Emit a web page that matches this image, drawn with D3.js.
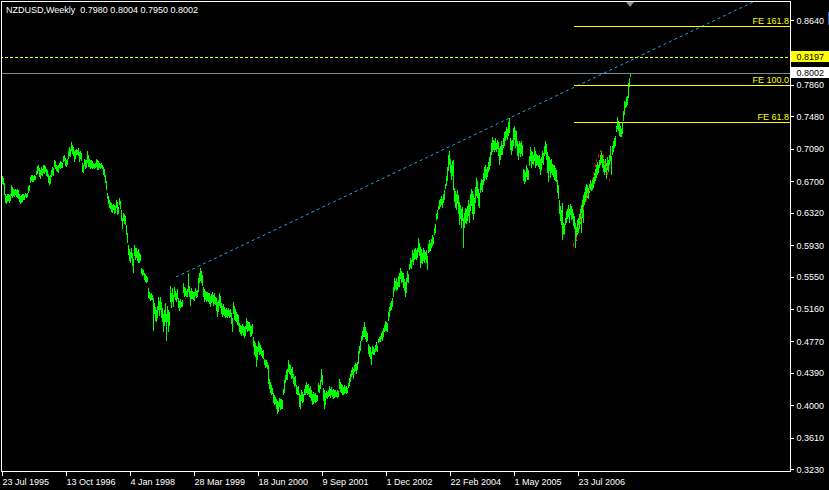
<!DOCTYPE html>
<html><head><meta charset="utf-8">
<script src="https://cdn.jsdelivr.net/npm/d3@7"></script>
<style>
html,body{margin:0;padding:0;background:#000;}
svg{display:block;}
text{font-family:"Liberation Sans",Arial,sans-serif;font-size:9px;}
</style></head><body>
<svg id="c" width="829" height="490"></svg>
<script>
// ---- data (weekly bars, one per week, starting 23 Jul 1995) ----
const highs=[
.676,.674,.668,.655,.652,.654,.655,.653,.654,.666,
.663,.661,.659,.661,.660,.661,.659,.654,.652,.653,
.654,.655,.653,.656,.655,.656,.664,.666,.675,.678,
.677,.676,.677,.676,.682,.688,.690,.686,.684,.687,
.685,.690,.689,.688,.685,.684,.679,.676,.678,.683,
.687,.686,.696,.694,.690,.688,.689,.692,.694,.693,
.692,.700,.702,.698,.696,.697,.706,.711,.709,.717,
.714,.711,.706,.708,.709,.708,.710,.705,.707,.704,
.692,.690,.697,.695,.696,.706,.701,.697,.695,.696,
.694,.692,.691,.692,.697,.695,.694,.692,.691,.692,
.690,.687,.685,.677,.670,.656,.652,.647,.645,.644,
.641,.643,.641,.640,.647,.645,.639,.650,.646,.635,
.626,.632,.630,.628,.617,.608,.593,.588,.585,.589,
.583,.576,.593,.590,.589,.586,.588,.584,.582,.565,
.564,.563,.560,.558,.556,.554,.541,.536,.534,.535,
.533,.529,.523,.518,.515,.520,.530,.526,.530,.525,
.517,.510,.515,.523,.510,.520,.515,.512,.544,.535,
.541,.533,.542,.538,.535,.540,.529,.526,.528,.525,
.527,.547,.542,.541,.538,.540,.560,.544,.538,.541,
.538,.536,.537,.541,.538,.539,.553,.560,.565,.562,
.557,.542,.540,.538,.536,.537,.535,.535,.532,.534,
.536,.533,.535,.531,.529,.524,.527,.535,.532,.523,
.520,.522,.518,.516,.517,.515,.517,.515,.516,.511,
.505,.524,.520,.516,.512,.510,.509,.499,.497,.496,
.498,.496,.494,.495,.505,.502,.500,.500,.497,.496,
.498,.482,.478,.475,.472,.470,.478,.475,.473,.469,
.466,.467,.456,.454,.455,.452,.448,.432,.428,.425,
.421,.415,.412,.410,.408,.405,.404,.409,.407,.408,
.406,.420,.430,.436,.442,.444,.454,.450,.448,.444,
.446,.438,.434,.435,.424,.422,.423,.415,.412,.418,
.416,.414,.420,.424,.428,.425,.426,.421,.423,.418,
.414,.416,.414,.415,.413,.412,.427,.425,.430,.444,
.436,.421,.418,.415,.417,.416,.418,.423,.420,.422,
.419,.420,.418,.419,.416,.418,.417,.432,.428,.426,
.424,.422,.424,.422,.423,.421,.427,.433,.438,.443,
.446,.444,.448,.451,.450,.452,.466,.472,.478,.484,
.490,.494,.500,.494,.490,.487,.474,.472,.470,.464,
.472,.470,.468,.473,.476,.472,.480,.482,.484,.487,
.490,.493,.497,.502,.500,.499,.512,.518,.523,.526,
.529,.542,.553,.550,.553,.548,.556,.559,.566,.562,
.560,.559,.552,.548,.553,.562,.558,.570,.578,.575,
.587,.584,.588,.590,.587,.589,.602,.595,.591,.588,
.584,.590,.587,.585,.587,.580,.594,.599,.596,.600,
.605,.603,.614,.619,.630,.635,.640,.647,.649,.652,
.648,.655,.659,.667,.676,.687,.702,.707,.697,.690,
.694,.695,.662,.658,.655,.660,.653,.645,.641,.636,
.639,.626,.632,.638,.636,.640,.647,.643,.655,.661,
.658,.655,.650,.663,.674,.670,.661,.656,.668,.673,
.671,.680,.687,.689,.685,.687,.693,.699,.705,.716,
.723,.720,.719,.722,.716,.720,.717,.710,.713,.719,
.714,.722,.729,.731,.735,.733,.741,.746,.722,.718,
.720,.734,.737,.732,.730,.719,.715,.719,.716,.718,
.714,.685,.683,.681,.689,.686,.684,.700,.711,.706,
.705,.702,.711,.706,.703,.701,.700,.701,.697,.699,
.707,.704,.712,.719,.715,.705,.700,.699,.696,.697,
.691,.689,.689,.686,.683,.671,.665,.647,.640,.635,
.644,.620,.618,.626,.634,.637,.641,.637,.643,.640,
.636,.632,.628,.620,.615,.623,.626,.630,.636,.641,
.647,.653,.657,.663,.667,.665,.662,.667,.671,.669,
.672,.675,.680,.685,.689,.693,.690,.695,.702,.707,
.701,.697,.694,.697,.692,.699,.695,.702,.713,.700,
.712,.719,.722,.725,.737,.747,.742,.740,.737,.733,
.740,.755,.767,.765,.771,.773,.788,.794,.8004];
const lows=[
.667,.665,.653,.644,.642,.645,.646,.644,.646,.652,
.650,.652,.651,.653,.651,.650,.649,.645,.643,.644,
.645,.647,.647,.651,.650,.651,.656,.658,.668,.670,
.669,.669,.671,.671,.677,.679,.682,.675,.673,.677,
.676,.680,.679,.681,.676,.675,.668,.665,.667,.675,
.677,.676,.687,.685,.682,.681,.680,.686,.685,.686,
.686,.693,.694,.688,.687,.689,.697,.700,.699,.706,
.703,.700,.693,.697,.701,.701,.700,.693,.697,.694,
.681,.680,.688,.685,.686,.692,.687,.687,.685,.686,
.685,.686,.685,.686,.687,.683,.684,.686,.685,.686,
.685,.678,.675,.668,.659,.648,.643,.638,.636,.633,
.632,.635,.631,.632,.638,.629,.630,.641,.637,.622,
.613,.622,.618,.617,.605,.596,.581,.574,.572,.578,
.568,.560,.580,.575,.577,.574,.572,.571,.574,.558,
.556,.557,.551,.548,.547,.549,.529,.528,.526,.527,
.527,.490,.510,.502,.500,.505,.515,.508,.515,.505,
.500,.488,.495,.500,.478,.500,.488,.495,.525,.517,
.525,.518,.530,.527,.524,.528,.517,.514,.517,.519,
.518,.535,.530,.532,.530,.531,.536,.530,.520,.528,
.528,.527,.526,.532,.529,.530,.536,.547,.550,.547,
.544,.530,.524,.527,.524,.526,.525,.522,.518,.523,
.525,.520,.522,.521,.514,.506,.512,.520,.517,.510,
.506,.509,.507,.505,.506,.505,.507,.505,.506,.498,
.488,.510,.503,.502,.500,.497,.496,.488,.486,.484,
.487,.484,.481,.483,.492,.488,.490,.489,.482,.484,
.486,.470,.460,.458,.446,.455,.464,.460,.462,.459,
.457,.456,.448,.445,.446,.444,.426,.420,.415,.412,
.414,.403,.400,.401,.396,.390,.392,.398,.394,.396,
.395,.412,.415,.427,.430,.431,.440,.438,.436,.432,
.433,.426,.422,.423,.414,.412,.413,.398,.396,.405,
.403,.404,.412,.413,.415,.413,.414,.410,.409,.405,
.400,.402,.404,.403,.404,.405,.416,.415,.420,.428,
.424,.405,.396,.400,.409,.408,.410,.411,.409,.412,
.410,.408,.409,.410,.410,.409,.410,.420,.416,.415,
.413,.412,.414,.415,.414,.415,.421,.423,.428,.434,
.436,.432,.440,.441,.438,.442,.450,.462,.466,.478,
.479,.482,.482,.480,.476,.477,.462,.458,.456,.448,
.462,.460,.461,.464,.466,.464,.475,.476,.476,.480,
.478,.482,.488,.490,.489,.488,.502,.506,.514,.515,
.518,.530,.538,.540,.538,.539,.543,.542,.552,.547,
.549,.541,.538,.530,.535,.549,.547,.563,.566,.564,
.573,.569,.575,.576,.575,.578,.585,.580,.566,.572,
.570,.574,.571,.575,.571,.563,.583,.585,.586,.590,
.592,.594,.605,.607,.623,.625,.635,.637,.639,.641,
.638,.644,.647,.661,.664,.670,.682,.690,.680,.671,
.676,.659,.645,.638,.635,.642,.630,.617,.625,.614,
.622,.590,.614,.620,.618,.622,.628,.620,.634,.640,
.631,.623,.630,.644,.652,.650,.640,.638,.656,.660,
.657,.665,.670,.674,.671,.675,.681,.684,.688,.701,
.705,.708,.705,.708,.705,.709,.700,.689,.695,.702,
.701,.710,.713,.719,.722,.720,.724,.728,.708,.701,
.706,.713,.720,.710,.712,.700,.695,.704,.699,.703,
.700,.670,.667,.669,.675,.671,.672,.688,.694,.686,
.691,.689,.694,.686,.688,.690,.687,.685,.677,.683,
.692,.689,.700,.703,.695,.680,.669,.682,.674,.680,
.678,.675,.672,.670,.669,.656,.649,.630,.622,.617,
.599,.606,.605,.617,.620,.624,.627,.620,.629,.623,
.625,.616,.613,.590,.598,.605,.608,.612,.618,.608,
.626,.620,.641,.645,.650,.650,.649,.656,.660,.658,
.659,.662,.667,.670,.674,.677,.680,.686,.690,.692,
.686,.681,.678,.681,.673,.684,.681,.690,.694,.677,
.701,.705,.710,.712,.729,.733,.730,.725,.723,.723,
.727,.743,.750,.758,.760,.762,.770,.783,.7950];

const xTickIndex=[0,64,128,192,256,320,384,448,512,576];
const xTickLabels=["23 Jul 1995","13 Oct 1996","4 Jan 1998","28 Mar 1999","18 Jun 2000","9 Sep 2001","1 Dec 2002","22 Feb 2004","1 May 2005","23 Jul 2006"];
const yTicks=[0.8640,0.8250,0.7860,0.7480,0.7090,0.6700,0.6320,0.5930,0.5550,0.5160,0.4770,0.4390,0.4000,0.3610,0.3230];

const feLevels=[0.8570,0.7856,0.7414];
const feLabels=["FE 161.8","FE 100.0","FE 61.8"];
const feStartIndex=572;

const trendIndex=[174,506];
const trendValues=[0.5546,0.7452];

const bidPrice=0.8002;
const alertPrice=0.8197;

const redIndex=[572,575,576,577,579,580,582,585,586,588,590,591,592,594,595,597,599,602,603,605,606,608];
const redHigh=[.5950,.6022,.6094,.6167,.6239,.6311,.6384,.6492,.6552,.6613,.6685,.6733,.6805,.6902,.6962,.7022,.7071,.7022,.6926,.6878,.6805,.6721];
const redLow=[.5902,.5986,.6070,.6131,.6203,.6263,.6348,.6456,.6516,.6577,.6661,.6709,.6769,.6866,.6926,.6974,.7046,.6974,.6890,.6854,.6769,.6697];

const header="NZDUSD,Weekly  0.7980 0.8004 0.7950 0.8002";

// ---- layout ----
const W=829,H=490;
const plotL=1.5, plotR=790.5, plotT=1.5, plotB=471.5;
const svg=d3.select("#c");
svg.append("rect").attr("width",W).attr("height",H).attr("fill","#000");

const x=d3.scaleLinear().domain([0,628]).range([2,630]);
const y=d3.scaleLinear().domain([0.3230,0.8640]).range([469.2,20.2]);
const px=i=>Math.round(x(i))+0.5;

const defs=svg.append("defs");
defs.append("clipPath").attr("id","plot").append("rect")
  .attr("x",plotL).attr("y",plotT).attr("width",plotR-plotL).attr("height",plotB-plotT);

const g=svg.append("g").attr("clip-path","url(#plot)");

// bars
g.append("g").selectAll("line").data(highs).join("line")
  .attr("x1",(d,i)=>px(i)).attr("x2",(d,i)=>px(i))
  .attr("y1",d=>y(d)).attr("y2",(d,i)=>y(lows[i]))
  .attr("stroke","#00FF00").attr("stroke-width",1)
  .attr("shape-rendering","crispEdges");

// red marks
g.append("g").selectAll("line").data(redIndex).join("line")
  .attr("x1",(d)=>px(d)-1).attr("x2",(d)=>px(d)-1)
  .attr("y1",(d,i)=>y(redHigh[i])).attr("y2",(d,i)=>y(redLow[i]))
  .attr("stroke","#FF0000").attr("stroke-width",1)
  .attr("shape-rendering","crispEdges");

// trend ray
const slope=(trendValues[1]-trendValues[0])/(trendIndex[1]-trendIndex[0]);
const endIdx=trendIndex[0]+800;
g.append("line")
  .attr("x1",x(trendIndex[0])).attr("y1",y(trendValues[0]))
  .attr("x2",x(endIdx)).attr("y2",y(trendValues[0]+slope*(endIdx-trendIndex[0])))
  .attr("stroke","#1EA4E6").attr("stroke-width",1).attr("stroke-dasharray","3,3");

// alert dashed line
g.append("line").attr("x1",0).attr("x2",plotR)
  .attr("y1",Math.round(y(alertPrice))+0.5).attr("y2",Math.round(y(alertPrice))+0.5)
  .attr("stroke","#FFFF00").attr("stroke-dasharray","3,2").attr("shape-rendering","crispEdges");

// bid line
g.append("line").attr("x1",0).attr("x2",plotR)
  .attr("y1",Math.round(y(bidPrice))+0.5).attr("y2",Math.round(y(bidPrice))+0.5)
  .attr("stroke","#778899").attr("shape-rendering","crispEdges");

// FE levels
feLevels.forEach((v,k)=>{
  const yy=Math.round(y(v))+0.5;
  g.append("line").attr("x1",x(feStartIndex)).attr("x2",plotR).attr("y1",yy).attr("y2",yy)
    .attr("stroke","#FFFF00").attr("shape-rendering","crispEdges");
  svg.append("text").attr("x",789).attr("y",yy-2.5).attr("text-anchor","end")
    .attr("fill","#FFFF00").text(feLabels[k]);
});

// shift marker triangle
svg.append("path")
  .attr("d",`M${x(628)-4},2 L${x(628)+4},2 L${x(628)},7 Z`)
  .attr("fill","#8C8C8C");

// frame
svg.append("rect").attr("x",plotL).attr("y",plotT).attr("width",plotR-plotL).attr("height",plotB-plotT)
  .attr("fill","none").attr("stroke","#FFFFFF").attr("shape-rendering","crispEdges");

// y axis
const ya=svg.append("g").attr("transform",`translate(${plotR},0)`)
  .call(d3.axisRight(y).tickValues(yTicks).tickFormat(d3.format(".4f")).tickSize(3).tickPadding(3));
ya.select(".domain").remove();
ya.selectAll("line").attr("stroke","#FFFFFF").attr("shape-rendering","crispEdges");
ya.selectAll("text").attr("fill","#FFFFFF").style("font-family","'Liberation Sans',Arial,sans-serif").style("font-size","9px");

// the tick label hidden behind the alert price box: only its upper part shows
const boxTop=Math.round(y(alertPrice))-6;
defs.append("clipPath").attr("id","abovebox").append("rect")
  .attr("x",plotR).attr("y",0).attr("width",W-plotR).attr("height",boxTop);
ya.selectAll(".tick").filter(d=>Math.abs(y(d)-y(alertPrice))<8)
  .select("text").attr("clip-path","url(#abovebox)")
  .attr("transform",`translate(0,${-2})`);

// x axis
const xa=svg.append("g").attr("transform",`translate(0,${plotB})`)
  .call(d3.axisBottom(x).tickValues(xTickIndex).tickFormat((d,i)=>xTickLabels[i]).tickSize(4).tickPadding(3));
xa.select(".domain").remove();
xa.selectAll(".tick").attr("transform",d=>`translate(${px(d)},0)`);
xa.selectAll("line").attr("stroke","#FFFFFF").attr("shape-rendering","crispEdges");
xa.selectAll("text").attr("fill","#FFFFFF").attr("text-anchor","start").attr("x",0).attr("dy","0.71em")
  .style("font-family","'Liberation Sans',Arial,sans-serif").style("font-size","9px");

// price labels (boxes)
function priceBox(v,bg){
  const yy=y(v);
  svg.append("rect").attr("x",791).attr("y",Math.round(yy)-6).attr("width",38).attr("height",11).attr("fill",bg);
  svg.append("text").attr("x",796.5).attr("y",yy+3.2).attr("fill","#000").text(d3.format(".4f")(v));
}
priceBox(alertPrice,"#FFFF00");
priceBox(bidPrice,"#FFFFFF");
svg.append("rect").attr("x",828).attr("y",12).attr("width",1).attr("height",13).attr("fill","#1E64C8");

// header
svg.append("text").attr("x",6).attr("y",13).attr("fill","#FFFFFF").style("white-space","pre").text(header);
</script>
</body></html>
